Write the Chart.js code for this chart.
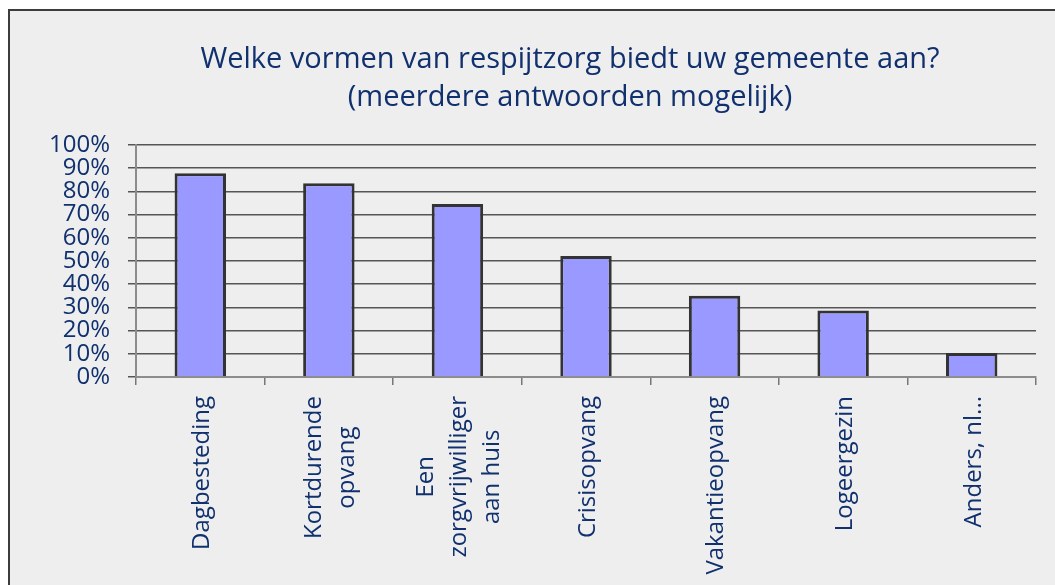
<!DOCTYPE html>
<html>
<head>
<meta charset="utf-8">
<script src="https://cdn.jsdelivr.net/npm/chart.js@4.4.0/dist/chart.umd.min.js"></script>
<style>
  body { margin: 0; background: #ffffff; }
  #box {
    position: absolute; left: 8px; top: 9px;
    width: 1045px; height: 574px;
    border-left: 2px solid #3c3c3c; border-top: 2px solid #3c3c3c;
    background: #eeeeee;
  }
</style>
</head>
<body>
<div id="box"><canvas id="grafiek" width="1045" height="574"></canvas></div>
<script>
var titel = ['Welke vormen van respijtzorg biedt uw gemeente aan?', '(meerdere antwoorden mogelijk)'];
var categorieen = [
    ['Dagbesteding'],
    ['Kortdurende', 'opvang'],
    ['Een', 'zorgvrijwilliger', 'aan huis'],
    ['Crisisopvang'],
    ['Vakantieopvang'],
    ['Logeergezin'],
    ['Anders, nl...']
];
var percentages = [87.8, 83.5, 74.6, 52.2, 35.0, 28.7, 10.3];
var yTicks = [0, 10, 20, 30, 40, 50, 60, 70, 80, 90, 100];

var tekstKleur = '#10306e';
var lettertype = 'Open Sans';

// titel is not centred on the canvas, and the x labels are rotated with
// their lines centred on each other (Chart.js right-aligns them), so both drawn here
var tekstPlugin = {
    id: 'tekst',
    afterDraw: function (chart) {
        var ctx = chart.ctx;
        var x = chart.scales.x;
        ctx.save();
        ctx.fillStyle = tekstKleur;
        ctx.textAlign = 'center';
        ctx.textBaseline = 'middle';

        ctx.font = '29px "' + lettertype + '"';
        titel.forEach(function (r, j) {
            ctx.fillText(r, 560, 49 + j * 38);
        });

        ctx.font = '24px "' + lettertype + '"';
        categorieen.forEach(function (regels, i) {
            var breed = 0;
            regels.forEach(function (r) { breed = Math.max(breed, ctx.measureText(r).width); });
            var px = x.getPixelForValue(i);
            ctx.save();
            ctx.translate(px + 2, x.top + 19 + breed / 2);
            ctx.rotate(-Math.PI / 2);
            regels.forEach(function (r, j) {
                ctx.fillText(r, 0, (j - (regels.length - 1) / 2) * 33);
            });
            ctx.restore();
        });
        ctx.restore();
    }
};

var ctx = document.getElementById('grafiek').getContext('2d');
var grafiek = new Chart(ctx, {
    type: 'bar',
    data: {
        labels: categorieen.map(function (c) { return c.join(' '); }),
        datasets: [{
            data: percentages,
            backgroundColor: '#9999ff',
            borderColor: '#333333',
            borderWidth: 3,
            barPercentage: 0.4,
            categoryPercentage: 1
        }]
    },
    options: {
        responsive: false,
        animation: false,
        layout: { padding: { left: 26, right: 19, top: 134, bottom: 0 } },
        plugins: {
            legend: { display: false },
            tooltip: { enabled: false },
            title: { display: false }
        },
        scales: {
            x: {
                offset: true,
                grid: { drawOnChartArea: false, offset: true, tickLength: 8, color: '#777777', lineWidth: 1.5 },
                border: { color: '#8c8c8c', width: 2 },
                ticks: { display: false },
                afterFit: function (s) { s.height = 208; }
            },
            y: {
                min: 0,
                max: 100,
                afterBuildTicks: function (s) { s.ticks = yTicks.map(function (v) { return { value: v }; }); },
                grid: { color: '#555555', lineWidth: 1.5, tickLength: 8 },
                border: { color: '#8c8c8c', width: 2 },
                ticks: {
                    autoSkip: false,
                    padding: 18,
                    color: tekstKleur,
                    font: { family: lettertype, size: 24, lineHeight: 1 },
                    callback: function (v) { return v + '%'; }
                },
                afterFit: function (s) { s.width = 100; }
            }
        }
    },
    plugins: [tekstPlugin]
});
</script>
</body>
</html>
